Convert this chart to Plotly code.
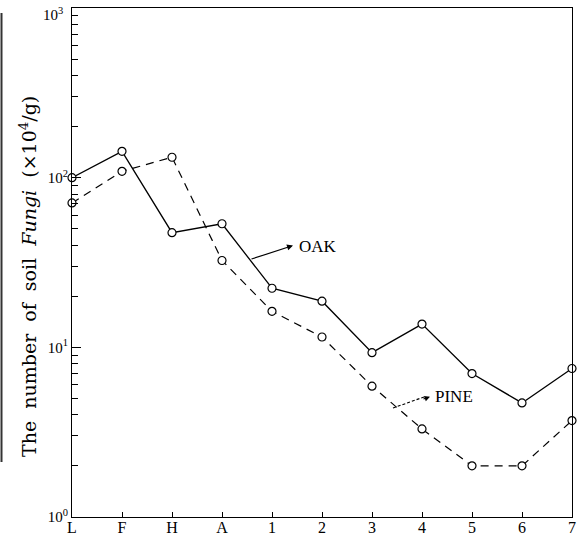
import plotly.graph_objects as go

categories = ["L", "F", "H", "A", "1", "2", "3", "4", "5", "6", "7"]
oak = [100, 143, 47.4, 53.5, 22.3, 18.7, 9.3, 13.7, 7.0, 4.7, 7.5]
pine = [71, 109, 132, 32.5, 16.3, 11.5, 5.9, 3.3, 2.0, 2.0, 3.7]
ytick_vals = [1, 10, 100, 1000]
ytick_text = ["10<sup>0</sup>", "10<sup>1</sup>", "10<sup>2</sup>", "10<sup>3</sup>"]

SERIF = "Liberation Serif, Times New Roman, serif"
WIDE_SERIF = "DejaVu Serif, serif"

xpos = list(range(len(categories)))

fig = go.Figure()
fig.add_trace(go.Scatter(
    x=xpos, y=oak, mode="lines+markers", name="OAK",
    line=dict(color="black", width=1.3),
    marker=dict(symbol="circle", size=8, color="white",
                line=dict(color="black", width=1.2)),
    cliponaxis=False, showlegend=False, hoverinfo="skip"))
fig.add_trace(go.Scatter(
    x=xpos, y=pine, mode="lines+markers", name="PINE",
    line=dict(color="black", width=1.2, dash="8px,6px"),
    marker=dict(symbol="circle", size=8, color="white",
                line=dict(color="black", width=1.2)),
    cliponaxis=False, showlegend=False, hoverinfo="skip"))

fig.update_layout(
    width=580, height=545,
    margin=dict(l=72, r=8, t=8, b=28),
    paper_bgcolor="white", plot_bgcolor="white",
    font=dict(family=SERIF, color="black", size=15),
    xaxis=dict(
        range=[0, 10], automargin=False,
        tickvals=xpos, ticktext=categories,
        showline=True, linecolor="black", linewidth=1.2, mirror=True,
        ticks="inside", ticklen=5, tickcolor="black", tickwidth=1,
        showgrid=False, zeroline=False, ticklabelstandoff=-4,
        tickfont=dict(family=SERIF, size=16),
    ),
    yaxis=dict(
        type="log", range=[-0.0005, 3.0005], automargin=False,
        showline=True, linecolor="black", linewidth=1.2, mirror=True,
        ticks="inside", ticklen=9, tickcolor="black", tickwidth=1,
        tickvals=ytick_vals, ticktext=ytick_text[:3] + [""],
        minor=dict(ticks="inside", ticklen=6, tickcolor="black", dtick="D1"),
        showgrid=False, zeroline=False,
        tickfont=dict(family=SERIF, size=15),
    ),
)

# top decade label sits just below its tick, as in the reference
fig.add_annotation(
    xref="paper", yref="paper", x=(65 - 72) / 500, y=(517 - 14) / 509,
    text=ytick_text[3], showarrow=False, xanchor="right", yanchor="middle",
    font=dict(family=SERIF, size=15))

# y-axis title placed as rotated annotation
fig.add_annotation(
    xref="paper", yref="paper", x=(28 - 72) / 500, y=(517 - 277) / 509,
    text="The  number  of  soil  <i>Fungi</i>  (×10<sup>4</sup>/g)",
    textangle=-90, showarrow=False, xanchor="center", yanchor="middle",
    font=dict(family=WIDE_SERIF, size=19))

# OAK label with pointer
fig.add_annotation(x=4.5, y=1.594, xref="x", yref="y", text="OAK",
                   showarrow=False, xanchor="left", yanchor="middle",
                   font=dict(family=SERIF, size=17))
fig.add_annotation(x=4.42, y=1.600, xref="x", yref="y", text="",
                   showarrow=True, ax=-43, ay=14, arrowhead=2,
                   arrowsize=1, arrowwidth=1.2, arrowcolor="black")

# PINE label with dashed pointer
fig.add_annotation(x=7.22, y=0.709, xref="x", yref="y", text="PINE",
                   showarrow=False, xanchor="left", yanchor="middle",
                   font=dict(family=SERIF, size=17))
fig.add_shape(type="line", xref="paper", yref="paper",
              x0=(393 - 72) / 500, y0=(517 - 408) / 509,
              x1=(424 - 72) / 500, y1=(517 - 397) / 509,
              line=dict(color="black", width=1.1, dash="3px,2px"))
fig.add_annotation(x=7.16, y=0.709, xref="x", yref="y", text="",
                   showarrow=True, ax=-8, ay=3, arrowhead=2,
                   arrowsize=1, arrowwidth=1.1, arrowcolor="black")

# scanned page edge on the far left
fig.add_shape(type="line", xref="paper", yref="paper",
              x0=(1.5 - 72) / 500, x1=(1.5 - 72) / 500,
              y0=(517 - 462) / 509, y1=(517 - 13) / 509,
              line=dict(color="#333333", width=2))

fig.write_html(
    "out.html",
    config={"displayModeBar": False},
    post_script="document.body.style.margin='0';document.body.style.padding='0';",
)
